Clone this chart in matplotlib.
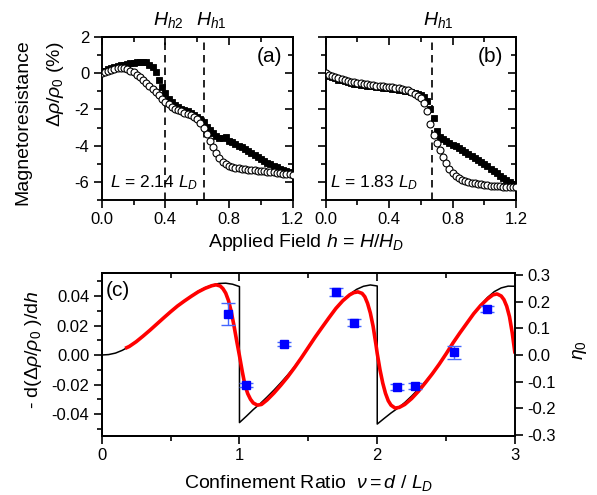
import numpy as np
import matplotlib
matplotlib.use("Agg")
import matplotlib.pyplot as plt

plt.rcParams['font.family'] = ['Liberation Sans', 'DejaVu Sans']
plt.rcParams['mathtext.fontset'] = 'custom'
plt.rcParams['mathtext.rm'] = 'Liberation Sans'
plt.rcParams['mathtext.it'] = 'Liberation Sans:italic'
plt.rcParams['mathtext.bf'] = 'Liberation Sans:bold'
plt.rcParams['axes.unicode_minus'] = False

# ---------------- data: panels (a) and (b) ----------------
h_field = [round(0.02 * i, 2) for i in range(61)]

sq_a = [0.10, 0.15, 0.22, 0.28, 0.35, 0.40, 0.45, 0.48, 0.52, 0.55,
        0.57, 0.60, 0.62, 0.62, 0.60, 0.48, 0.35, 0.05, -0.35, -0.75,
        -1.10, -1.40, -1.60, -1.74, -1.86, -1.95, -2.02, -2.10, -2.20, -2.30,
        -2.42, -2.55, -2.72, -2.95, -3.15, -3.30, -3.45, -3.55, -3.60, -3.50,
        -3.72, -3.82, -3.92, -4.00, -4.10, -4.20, -4.30, -4.40, -4.50, -4.60,
        -4.72, -4.83, -4.93, -5.03, -5.12, -5.20, -5.28, -5.35, -5.42, -5.48,
        -5.52]
ci_a = [0.00, 0.05, 0.12, 0.18, 0.23, 0.27, 0.28, 0.27, 0.22, 0.15,
        0.05, -0.08, -0.22, -0.38, -0.52, -0.68, -0.88, -1.05, -1.22, -1.40,
        -1.58, -1.72, -1.85, -1.95, -2.03, -2.10, -2.17, -2.25, -2.33, -2.42,
        -2.55, -2.75, -3.05, -3.35, -3.75, -4.10, -4.40, -4.68, -4.88, -5.03,
        -5.13, -5.19, -5.23, -5.26, -5.29, -5.31, -5.33, -5.35, -5.37, -5.39,
        -5.41, -5.42, -5.44, -5.46, -5.48, -5.50, -5.52, -5.54, -5.56, -5.58,
        -5.60]
ci_b = [0.00, -0.08, -0.15, -0.22, -0.28, -0.33, -0.38, -0.42, -0.46, -0.50,
        -0.53, -0.56, -0.59, -0.62, -0.64, -0.66, -0.68, -0.70, -0.72, -0.74,
        -0.76, -0.78, -0.80, -0.83, -0.86, -0.90, -0.95, -1.02, -1.12, -1.25,
        -1.38, -1.65, -2.10, -2.80, -3.40, -3.85, -4.25, -4.60, -4.97, -5.30,
        -5.53, -5.70, -5.80, -5.88, -5.94, -5.99, -6.04, -6.08, -6.11, -6.14,
        -6.16, -6.18, -6.20, -6.22, -6.24, -6.25, -6.26, -6.27, -6.28, -6.29,
        -6.30]
sq_b = [-0.07, -0.15, -0.22, -0.29, -0.35, -0.40, -0.45, -0.49, -0.53, -0.57,
        -0.60, -0.63, -0.66, -0.69, -0.71, -0.73, -0.75, -0.77, -0.79, -0.81,
        -0.83, -0.85, -0.87, -0.90, -0.93, -0.96, -1.00, -1.05, -1.10, -1.15,
        -1.20, -1.30, -1.55, -2.00, -2.50, -3.20, -3.50, -3.62, -3.74, -3.85,
        -3.95, -4.04, -4.15, -4.26, -4.37, -4.48, -4.59, -4.70, -4.81, -4.92,
        -5.03, -5.14, -5.27, -5.40, -5.53, -5.66, -5.78, -5.90, -6.02, -6.13,
        -6.22]
hh2_a = 0.40
hh1_a = 0.64
hh1_b = 0.67

# ---------------- data: panel (c) ----------------
black_nu = [0.00, 0.05, 0.10, 0.15, 0.20, 0.25, 0.30, 0.35, 0.40, 0.45,
            0.50, 0.55, 0.60, 0.65, 0.70, 0.75, 0.80, 0.85, 0.90, 0.95, 1.00,
            1.00, 1.05, 1.10, 1.15, 1.20, 1.25, 1.30, 1.35, 1.40, 1.45,
            1.50, 1.55, 1.60, 1.65, 1.70, 1.75, 1.80, 1.85, 1.90, 1.95, 2.00,
            2.00, 2.05, 2.10, 2.15, 2.20, 2.25, 2.30, 2.35, 2.40, 2.45,
            2.50, 2.55, 2.60, 2.65, 2.70, 2.75, 2.80, 2.85, 2.90, 2.95, 3.00]
black_val = [0.0000, 0.0003, 0.0013, 0.0032, 0.0058, 0.0090, 0.0128, 0.0168, 0.0210, 0.0252,
             0.0293, 0.0332, 0.0366, 0.0400, 0.0432, 0.0456, 0.0474, 0.0485, 0.0487, 0.0480, 0.0464,
             -0.0458, -0.0415, -0.0370, -0.0330, -0.0285, -0.0238, -0.0188, -0.0135, -0.0078, -0.0015,
             0.0055, 0.0125, 0.0190, 0.0255, 0.0318, 0.0370, 0.0412, 0.0445, 0.0466, 0.0475, 0.0468,
             -0.0468, -0.0430, -0.0393, -0.0360, -0.0322, -0.0278, -0.0230, -0.0180, -0.0125, -0.0062,
             0.0008, 0.0078, 0.0148, 0.0215, 0.0280, 0.0338, 0.0390, 0.0430, 0.0455, 0.0467, 0.0466]

red_nu = [0.17, 0.20, 0.25, 0.30, 0.35, 0.40, 0.45, 0.50, 0.55, 0.60,
          0.65, 0.70, 0.75, 0.80, 0.83, 0.86, 0.88, 0.90, 0.92, 0.94,
          0.96, 0.98, 1.00, 1.02, 1.04, 1.06, 1.08, 1.10, 1.13, 1.16,
          1.20, 1.25, 1.30, 1.35, 1.40, 1.45, 1.50, 1.55, 1.60, 1.65,
          1.70, 1.75, 1.80, 1.83, 1.86, 1.89, 1.91, 1.93, 1.95, 1.97,
          1.99, 2.00, 2.02, 2.04, 2.06, 2.08, 2.10, 2.13, 2.16, 2.20,
          2.25, 2.30, 2.35, 2.40, 2.45, 2.50, 2.55, 2.60, 2.65, 2.70,
          2.75, 2.80, 2.84, 2.87, 2.90, 2.92, 2.94, 2.96, 2.98, 3.00]
red_val = [0.0045, 0.0058, 0.0090, 0.0128, 0.0168, 0.0210, 0.0252, 0.0293, 0.0332, 0.0366,
           0.0398, 0.0428, 0.0452, 0.0470, 0.0476, 0.0468, 0.0450, 0.0420, 0.0370, 0.0295,
           0.0200, 0.0095, -0.0005, -0.0110, -0.0205, -0.0262, -0.0300, -0.0325, -0.0340, -0.0335,
           -0.0305, -0.0258, -0.0205, -0.0148, -0.0085, -0.0018, 0.0052, 0.0122, 0.0188, 0.0253,
           0.0316, 0.0368, 0.0408, 0.0423, 0.0428, 0.0418, 0.0395, 0.0350, 0.0285, 0.0195,
           0.0075, 0.0010, -0.0100, -0.0190, -0.0260, -0.0310, -0.0340, -0.0360, -0.0355, -0.0335,
           -0.0295, -0.0245, -0.0187, -0.0127, -0.0062, 0.0008, 0.0082, 0.0150, 0.0215, 0.0280,
           0.0335, 0.0380, 0.0408, 0.0414, 0.0400, 0.0375, 0.0330, 0.0260, 0.0150, 0.0010]

pt_nu = [0.916, 1.049, 1.32, 1.703, 1.829, 2.144, 2.277, 2.56, 2.798]
pt_val = [0.0278, -0.0203, 0.0077, 0.0425, 0.0219, -0.0219, -0.0208, 0.0018, 0.0310]
pt_err = [0.0076, 0.0016, 0.0014, 0.0027, 0.0025, 0.0021, 0.0019, 0.0042, 0.0019]

# ---------------- ticks ----------------
ab_xmaj = [0.0, 0.4, 0.8, 1.2]
ab_xlab = ['0.0', '0.4', '0.8', '1.2']
ab_xmin = [0.2, 0.6, 1.0]
ab_ymaj = [-6, -4, -2, 0, 2]
ab_ylab = ['-6', '-4', '-2', '0', '2']
ab_ymin = [-7, -5, -3, -1, 1]
c_xmaj = [0, 1, 2, 3]
c_xlab = ['0', '1', '2', '3']
c_xmin = [0.5, 1.5, 2.5]
c_ymaj = [-0.04, -0.02, 0.0, 0.02, 0.04]
c_ylab = ['-0.04', '-0.02', '0.00', '0.02', '0.04']
c_ymin = [-0.05, -0.03, -0.01, 0.01, 0.03, 0.05]
c_rmaj = [-0.3, -0.2, -0.1, 0.0, 0.1, 0.2, 0.3]
c_rlab = ['-0.3', '-0.2', '-0.1', '0.0', '0.1', '0.2', '0.3']

W, H = 597, 495
fig = plt.figure(figsize=(W / 100, H / 100), dpi=100)


def box(l, t, r, b):
    return [l / W, 1 - b / H, (r - l) / W, (b - t) / H]


def px(x, y):
    return x / W, 1 - y / H


TICK = 12
SPW = 1.4
MAJ, MIN = 6, 3.5


def style(ax):
    for s in ax.spines.values():
        s.set_linewidth(SPW)
    ax.tick_params(which='both', direction='out', width=SPW * 0.85, labelsize=TICK,
                   top=False, right=False, pad=3)
    ax.tick_params(which='major', length=MAJ)
    ax.tick_params(which='minor', length=MIN)


def mirror(ax, xmaj, xmin, ymaj=None, ymin=None):
    top = ax.secondary_xaxis('top')
    top.set_xticks(xmaj)
    top.set_xticks(xmin, minor=True)
    top.tick_params(which='both', direction='in', labeltop=False, width=SPW * 0.85)
    top.tick_params(which='major', length=MAJ)
    top.tick_params(which='minor', length=MIN)
    top.spines['top'].set_linewidth(SPW)
    if ymaj is not None:
        rt = ax.secondary_yaxis('right')
        rt.set_yticks(ymaj)
        rt.set_yticks(ymin, minor=True)
        rt.tick_params(which='both', direction='in', labelright=False, width=SPW * 0.85)
        rt.tick_params(which='major', length=MAJ)
        rt.tick_params(which='minor', length=MIN)
        rt.spines['right'].set_linewidth(SPW)


axA = fig.add_axes(box(101.7, 37, 292.7, 200))
axB = fig.add_axes(box(325.7, 37, 516, 200))
axC = fig.add_axes(box(101.7, 273.3, 515, 436))

for ax, sq, ci in ((axA, sq_a, ci_a), (axB, sq_b, ci_b)):
    ax.plot(h_field, sq, ls='none', marker='s', ms=4.6, mfc='black', mec='black', mew=0.6, zorder=3)
    ax.plot(h_field, ci, ls='none', marker='o', ms=5.0, mfc='white', mec='black', mew=0.8, zorder=4)
    ax.set_xlim(0, 1.2)
    ax.set_ylim(-7, 2)
    ax.set_xticks(ab_xmaj, ab_xlab)
    ax.set_xticks(ab_xmin, minor=True)
    ax.set_yticks(ab_ymaj, ab_ylab)
    ax.set_yticks(ab_ymin, minor=True)
    style(ax)
    mirror(ax, ab_xmaj, ab_xmin, ab_ymaj, ab_ymin)

axB.tick_params(labelleft=False)

for xv in (hh2_a, hh1_a):
    axA.axvline(xv, color='black', ls=(0, (4.5, 3)), lw=1.2, zorder=2)
axB.axvline(hh1_b, color='black', ls=(0, (4.5, 3)), lw=1.2, zorder=2)

# panel (c)
axC.plot(black_nu, black_val, color='black', lw=1.1, zorder=2)
axC.plot(red_nu, red_val, color='#ff0000', lw=2.6, zorder=3, solid_capstyle='butt')
axC.errorbar(pt_nu, pt_val, yerr=pt_err, fmt='s', ms=6, mfc='#0000ff', mec='#0000ff',
             ecolor='#4466ff', elinewidth=1.0, capsize=5, capthick=1.0, zorder=5)
axC.set_xlim(0, 3)
axC.set_ylim(-0.0549, 0.0554)
axC.set_xticks(c_xmaj, c_xlab)
axC.set_xticks(c_xmin, minor=True)
axC.set_yticks(c_ymaj, c_ylab)
axC.set_yticks(c_ymin, minor=True)
style(axC)
mirror(axC, c_xmaj, c_xmin)
axC.spines['right'].set_visible(False)
axR = axC.twinx()
axR.set_ylim(-0.304, 0.3066)
axR.set_yticks(c_rmaj, c_rlab)
axR.tick_params(which='both', direction='out', width=SPW * 0.85, labelsize=TICK, length=MAJ, pad=3)
for s in axR.spines.values():
    s.set_linewidth(SPW)

# texts
LBL = 14
fig.text(*px(23, 122), 'Magnetoresistance', rotation=90, ha='center', va='center', fontsize=LBL)
fig.text(*px(55, 84), r'$\mathit{\Delta\rho/\rho_0}$ (%)', rotation=90, ha='center', va='center', fontsize=LBL)
fig.text(*px(306, 247), r'Applied Field $h$ = $H/H_D$', ha='center', va='baseline', fontsize=LBL)
fig.text(*px(309, 488), r'Confinement Ratio  $\nu = d\ /\ L_D$', ha='center', va='baseline', fontsize=LBL)
fig.text(*px(33, 350), r'- d($\mathit{\Delta\rho/\rho_0}$ )/d$h$', rotation=90, ha='center', va='center', fontsize=LBL)
fig.text(*px(580, 350), r'$\eta_0$', rotation=90, ha='center', va='center', fontsize=LBL)

fig.text(*px(269, 56), '(a)', ha='center', va='center', fontsize=15)
fig.text(*px(490, 56), '(b)', ha='center', va='center', fontsize=15)
fig.text(*px(118, 290), '(c)', ha='center', va='center', fontsize=15)
fig.text(*px(110, 187), r'$L$ = 2.14 $L_D$', ha='left', va='baseline', fontsize=12.5)
fig.text(*px(330, 187), r'$L$ = 1.83 $L_D$', ha='left', va='baseline', fontsize=12.5)
fig.text(*px(153, 25), r'$H_{h2}$', ha='left', va='baseline', fontsize=14)
fig.text(*px(196, 25), r'$H_{h1}$', ha='left', va='baseline', fontsize=14)
fig.text(*px(423, 25), r'$H_{h1}$', ha='left', va='baseline', fontsize=14)

fig.savefig('out.png', dpi=100)
